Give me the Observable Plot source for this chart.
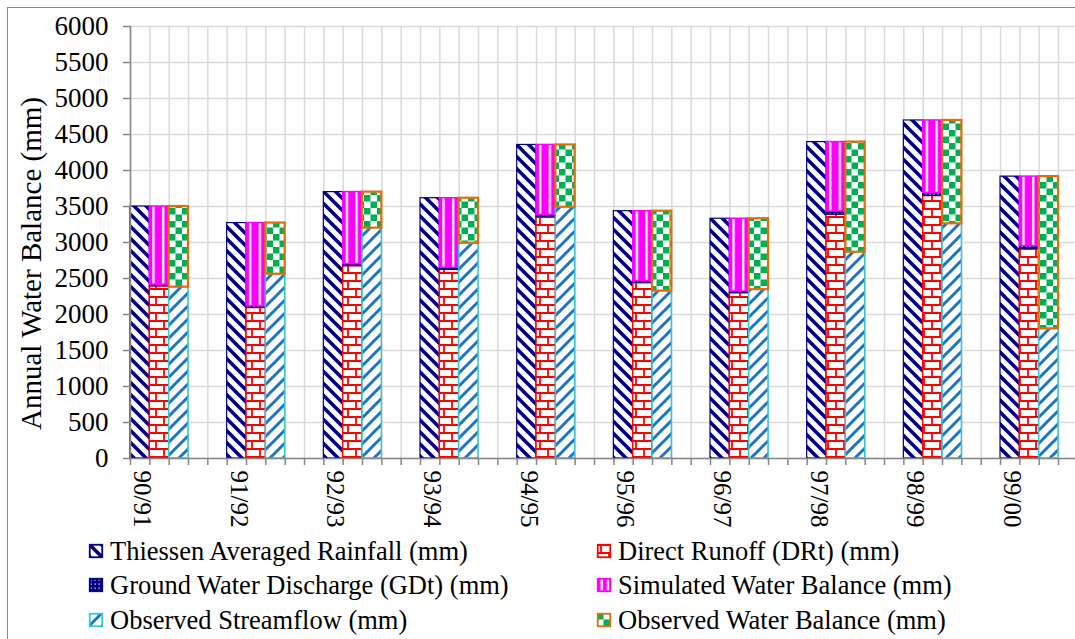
<!DOCTYPE html>
<html>
<head>
<meta charset="utf-8">
<script src="https://cdn.jsdelivr.net/npm/d3@7"></script>
<script src="https://cdn.jsdelivr.net/npm/@observablehq/plot@0.6"></script>
<style>
html,body{margin:0;padding:0;background:#fff;overflow:hidden;}
#wrap{position:relative;width:1075px;height:639px;overflow:hidden;font-family:'Liberation Serif';background:#fff;}
#frame{position:absolute;left:7px;top:7px;width:1100px;height:640px;border:1.5px solid #8c8c8c;box-sizing:border-box;z-index:5;pointer-events:none;}
#chart{position:absolute;left:0;top:0;}
#chart svg text{font-family:'Liberation Serif';}
.leg{position:absolute;font-family:'Liberation Serif';font-size:26.5px;line-height:30px;white-space:nowrap;color:#000;height:30px;}
.leg svg{position:absolute;left:0;top:8px;overflow:visible;}
.leg span{position:absolute;top:0;font-family:'Liberation Serif';}
</style>
</head>
<body>
<div id="wrap">
  <div id="frame"></div>
  <div id="chart"></div>
  <div id="legend"></div>
</div>
<script>
// ---- data ----
const years = ["90/91","91/92","92/93","93/94","94/95","95/96","96/97","97/98","98/99","99/00"];
const rainfall = [3500, 3270, 3700, 3615, 4355, 3435, 3330, 4395, 4695, 3915];
const directRunoff = [2390, 2090, 2670, 2620, 3350, 2435, 2295, 3385, 3645, 2910];
const groundWater = [25, 25, 30, 30, 35, 28, 25, 45, 45, 40];
const simulatedWB = [1085, 1155, 1000, 965, 970, 972, 1010, 965, 1005, 965];
const observedFlow = [2380, 2560, 3200, 2990, 3490, 2325, 2345, 2865, 3260, 1800];
const observedWB = [1120, 710, 500, 625, 865, 1110, 985, 1530, 1435, 2115];
const yTicks = d3.range(0, 6001, 500);
const seriesNames = [
  "Thiessen Averaged Rainfall (mm)",
  "Direct Runoff (DRt) (mm)",
  "Ground Water Discharge (GDt) (mm)",
  "Simulated Water Balance (mm)",
  "Observed Streamflow (mm)",
  "Observed Water Balance (mm)"
];
const yTitle = "Annual Water Balance (mm)";

// table built from the arrays
const table = years.map((year, i) => ({
  year, i,
  rain: rainfall[i], dr: directRunoff[i], gd: groundWater[i], swb: simulatedWB[i],
  os: observedFlow[i], owb: observedWB[i]
}));

const FONT = "Liberation Serif";
const SLOTS = 5; // 3 bars + 2 gap units per year
const units = d3.range(0, years.length * SLOTS + 1);
const gridStyle = {stroke: "#d9d9d9", strokeOpacity: 1, strokeWidth: 1.5};

const chart = Plot.plot({
  width: 1075,
  height: 535,
  marginLeft: 130,
  marginRight: 0,
  marginTop: 26,
  marginBottom: 77,
  x: {domain: [0, years.length * SLOTS], range: [130, 1096.7]},
  y: {domain: [0, 6000], range: [458, 26]},
  style: {fontFamily: FONT, fontSize: "26px", color: "black", background: "white"},
  marks: [
    Plot.gridY(yTicks, gridStyle),
    Plot.gridX(units, gridStyle),
    // Thiessen rainfall
    Plot.rect(table, {x1: d => d.i * SLOTS, x2: d => d.i * SLOTS + 1, y1: 0, y2: "rain",
      fill: "url(#pRain)", stroke: "#000080", strokeWidth: 1.2}),
    // simulated stack
    Plot.rect(table, {x1: d => d.i * SLOTS + 1, x2: d => d.i * SLOTS + 2, y1: 0, y2: "dr",
      fill: "url(#pBrick)", stroke: "#ff0000", strokeWidth: 1.5}),
    Plot.rect(table, {x1: d => d.i * SLOTS + 1, x2: d => d.i * SLOTS + 2, y1: "dr", y2: d => d.dr + d.gd,
      fill: "url(#pGD)", stroke: "#000080", strokeWidth: 0.8}),
    Plot.rect(table, {x1: d => d.i * SLOTS + 1, x2: d => d.i * SLOTS + 2, y1: d => d.dr + d.gd, y2: d => d.dr + d.gd + d.swb,
      fill: "url(#pMag)", stroke: "#ff00ff", strokeWidth: 1.5}),
    // observed stack
    Plot.rect(table, {x1: d => d.i * SLOTS + 2, x2: d => d.i * SLOTS + 3, y1: 0, y2: "os",
      fill: "url(#pFlow)", stroke: "#33c6d4", strokeWidth: 1.5}),
    Plot.rect(table, {x1: d => d.i * SLOTS + 2, x2: d => d.i * SLOTS + 3, y1: "os", y2: d => d.os + d.owb,
      fill: "url(#pCheck)", stroke: "#e46c0a", strokeWidth: 2.2}),
    // axes
    Plot.ruleX([0], {stroke: "#868686", strokeWidth: 1.5}),
    Plot.ruleY([0], {stroke: "#868686", strokeWidth: 1.5}),
    Plot.axisY(yTicks, {tickSize: 7, tickPadding: 15, fontSize: 27, fontFamily: FONT, tickFormat: d => String(d),
      stroke: "#868686", fill: "black", strokeWidth: 1.5, label: null}),
    Plot.axisX(units, {tickSize: 7, tickFormat: () => "", stroke: "#868686", strokeWidth: 1.5, label: null}),
    Plot.text(table, {x: d => d.i * SLOTS + 0.6, text: "year", frameAnchor: "bottom", rotate: 90,
      textAnchor: "start", lineAnchor: "middle", dy: 12, fontSize: 25, fontFamily: FONT, fill: "black"}),
    Plot.text([yTitle], {text: d => d, frameAnchor: "left", rotate: -90, dx: -99, dy: 21,
      textAnchor: "middle", lineAnchor: "middle", fontSize: 29, fontFamily: FONT, fill: "black"})
  ]
});

d3.select(chart).insert("defs", ":first-child").html(`
  <pattern id="pRain" patternUnits="userSpaceOnUse" width="12" height="12">
    <rect width="12" height="12" fill="#fff"/>
    <path d="M-3,-3L15,15M-3,9L3,15M9,-3L15,3" stroke="#000080" stroke-width="3.6"/>
  </pattern>
  <pattern id="pFlow" patternUnits="userSpaceOnUse" width="13" height="13">
    <rect width="13" height="13" fill="#fff"/>
    <path d="M-3,16L16,-3M-3,3L3,-3M10,16L16,10" stroke="#1f74c2" stroke-width="3"/>
  </pattern>
  <pattern id="pBrick" patternUnits="userSpaceOnUse" width="16" height="16">
    <rect width="16" height="16" fill="#fff"/>
    <path d="M0,1H16M0,9H16M4,0V9M12,8V16" stroke="#ff0000" stroke-width="1.8"/>
  </pattern>
  <pattern id="pGD" patternUnits="userSpaceOnUse" width="4" height="4">
    <rect width="4" height="4" fill="#000080"/>
    <rect x="1.5" y="1.5" width="1.2" height="1.2" fill="#fff"/>
  </pattern>
  <pattern id="pMag" patternUnits="objectBoundingBox" x="0" y="0" width="0.5" height="1">
    <rect width="40" height="3000" fill="#ff00ff"/>
    <rect x="3" width="2.3" height="3000" fill="#fff"/>
  </pattern>
  <pattern id="pCheck" patternUnits="userSpaceOnUse" width="13" height="13">
    <rect width="13" height="13" fill="#fff"/>
    <rect width="6.5" height="6.5" fill="#00b050"/>
    <rect x="6.5" y="6.5" width="6.5" height="6.5" fill="#00b050"/>
  </pattern>
`);
document.getElementById("chart").appendChild(chart);

// ---- legend ----
const legendFills = [
  ["url(#pRain)", "#000080"], ["url(#pBrick)", "#ff0000"],
  ["url(#pGD)", "#000080"], ["url(#pMag)", "#ff00ff"],
  ["url(#pFlow)", "#33c6d4"], ["url(#pCheck)", "#e46c0a"]
];
const colX = [89, 597];
const rowY = [551, 585, 620];
const legend = document.getElementById("legend");
seriesNames.forEach((name, k) => {
  const col = k % 2, row = Math.floor(k / 2);
  const div = document.createElement("div");
  div.className = "leg";
  div.style.left = colX[col] + "px";
  div.style.top = (rowY[row] - 15) + "px";
  div.innerHTML = `<svg width="14" height="14"><rect x="0.75" y="0.75" width="12.5" height="12.5" fill="${legendFills[k][0]}" stroke="${legendFills[k][1]}" stroke-width="1.8"/></svg><span style="left:21px">${name}</span>`;
  legend.appendChild(div);
});
</script>
</body>
</html>
